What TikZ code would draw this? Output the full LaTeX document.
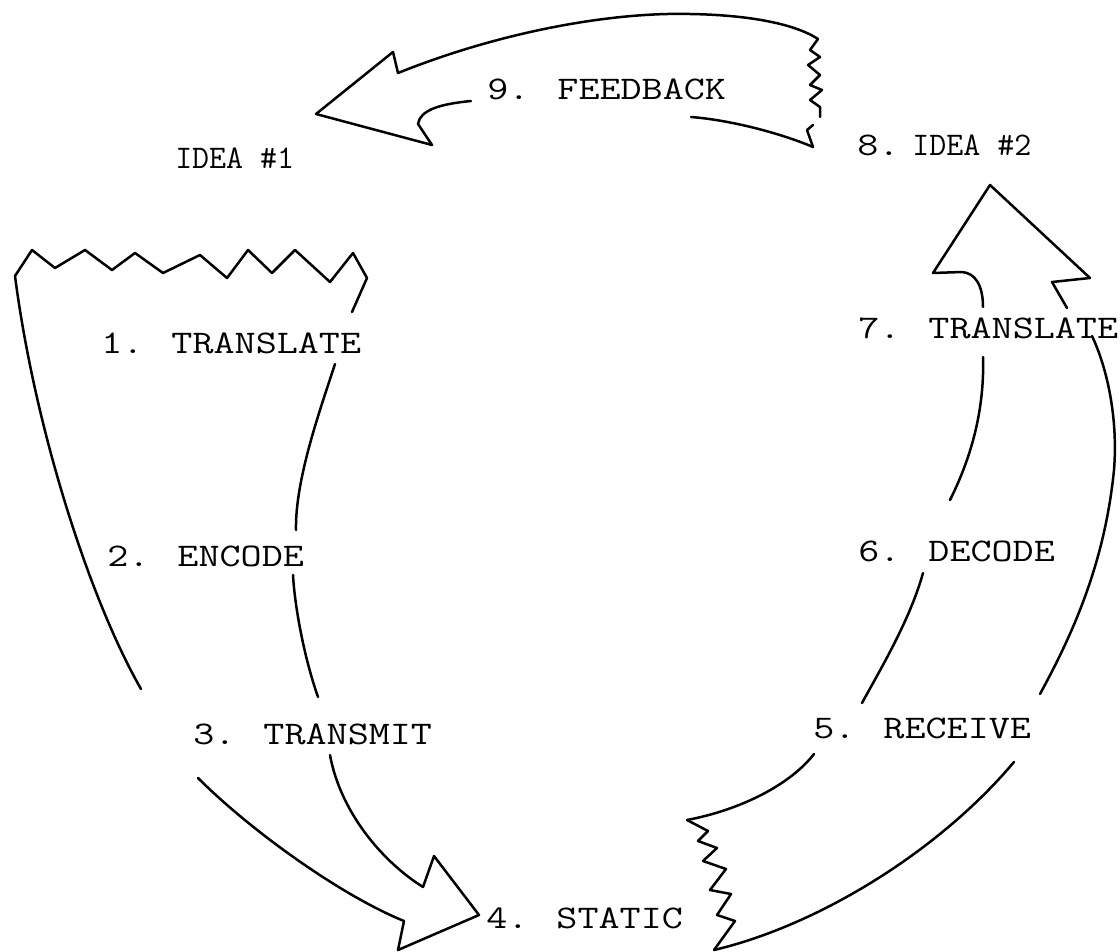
\documentclass[tikz,border=0pt]{standalone}
\usepackage{fontspec}
\usepackage{graphicx}
\usepackage{tikz}

\newcommand\stepfont{\ttfamily\fontsize{33}{38}\selectfont\addfontfeatures{FakeBold=2}}
\newcommand\steptext[1]{\scalebox{1.24}[1]{#1}}

\begin{document}
\begin{tikzpicture}[x=1pt, y=-1pt, line width=2.5pt, line join=round, line cap=round]
    \useasboundingbox (0,0) rectangle (1120,952);

    \begin{scope}[every node/.style={anchor=west, inner sep=0pt, font=\stepfont}]
      \node (s9) at (486,89) {\steptext{9. FEEDBACK}};
      \node (i1) at (174,158) {IDEA \#1};
      \node (i2) at (856,145) {\steptext{8.}\hspace{13pt}IDEA \#2};
      \node (s1) at (100,343) {\steptext{1. TRANSLATE}};
      \node (s2) at (106,556) {\steptext{2. ENCODE}};
      \node (s3) at (192,734) {\steptext{3. TRANSMIT}};
      \node (s4) at (485,918) {\steptext{4. STATIC}};
      \node (s5) at (812,728) {\steptext{5. RECEIVE}};
      \node (s6) at (857,551) {\steptext{6. DECODE}};
      \node (s7) at (857,328) {\steptext{7. TRANSLATE}};
    \end{scope}

    \draw (398,73) .. controls (500,32) and (610,12) .. (690,14) .. controls (750,15) and (795,24) .. (818,39);
    \draw (818,39) -- (810,50) -- (820,57) -- (808,65) -- (820,75) -- (810,85) -- (822,90) -- (810,100) -- (820,107) -- (820,117);
    \draw (813,125) -- (807,130) -- (813,147);
    \draw (813,147) .. controls (780,133) and (730,120) .. (691,117);
    \draw (471,101) .. controls (440,104) and (420,110) .. (418,124) -- (432,145) -- (316,114) -- (393,52) -- (398,73);

    \draw (15,276) -- (32,250) -- (55,268) -- (85,250) -- (112,270) -- (135,253) -- (163,273) -- (200,255) -- (227,278) -- (248,250) -- (272,273) -- (295,250) -- (330,282) -- (353,253) -- (367,278);
    \draw (15,276) .. controls (35,430) and (90,600) .. (141,689);
    \draw (198,778) .. controls (250,830) and (340,895) .. (404,921);
    \draw (404,921) -- (398,950) -- (479,915) -- (434,856) -- (423,887);
    \draw (423,887) .. controls (380,860) and (340,810) .. (330,755);
    \draw (367,278) -- (352,312);
    \draw (335,364) .. controls (320,410) and (295,480) .. (296,530);
    \draw (293,575) .. controls (295,610) and (305,660) .. (318,697);

    \draw (983,307) .. controls (983,285) and (975,273) .. (962,272) -- (933,273) -- (990,185) -- (1090,278) -- (1052,282) -- (1067,308);
    \draw (983,357) .. controls (985,420) and (965,470) .. (950,500);
    \draw (923,573) .. controls (910,620) and (880,670) .. (862,703);
    \draw (814,754) .. controls (790,785) and (740,810) .. (687,820);
    \draw (687,820) -- (708,831) -- (698,841) -- (717,848) -- (703,861) -- (726,869) -- (710,890) -- (731,894) -- (717,915) -- (735,921) -- (714,950);
    \draw (714,950) .. controls (820,925) and (940,850) .. (1014,762);
    \draw (1040,694) .. controls (1075,630) and (1105,560) .. (1114,470) .. controls (1118,420) and (1108,370) .. (1092,336);

  \end{tikzpicture}
\end{document}
